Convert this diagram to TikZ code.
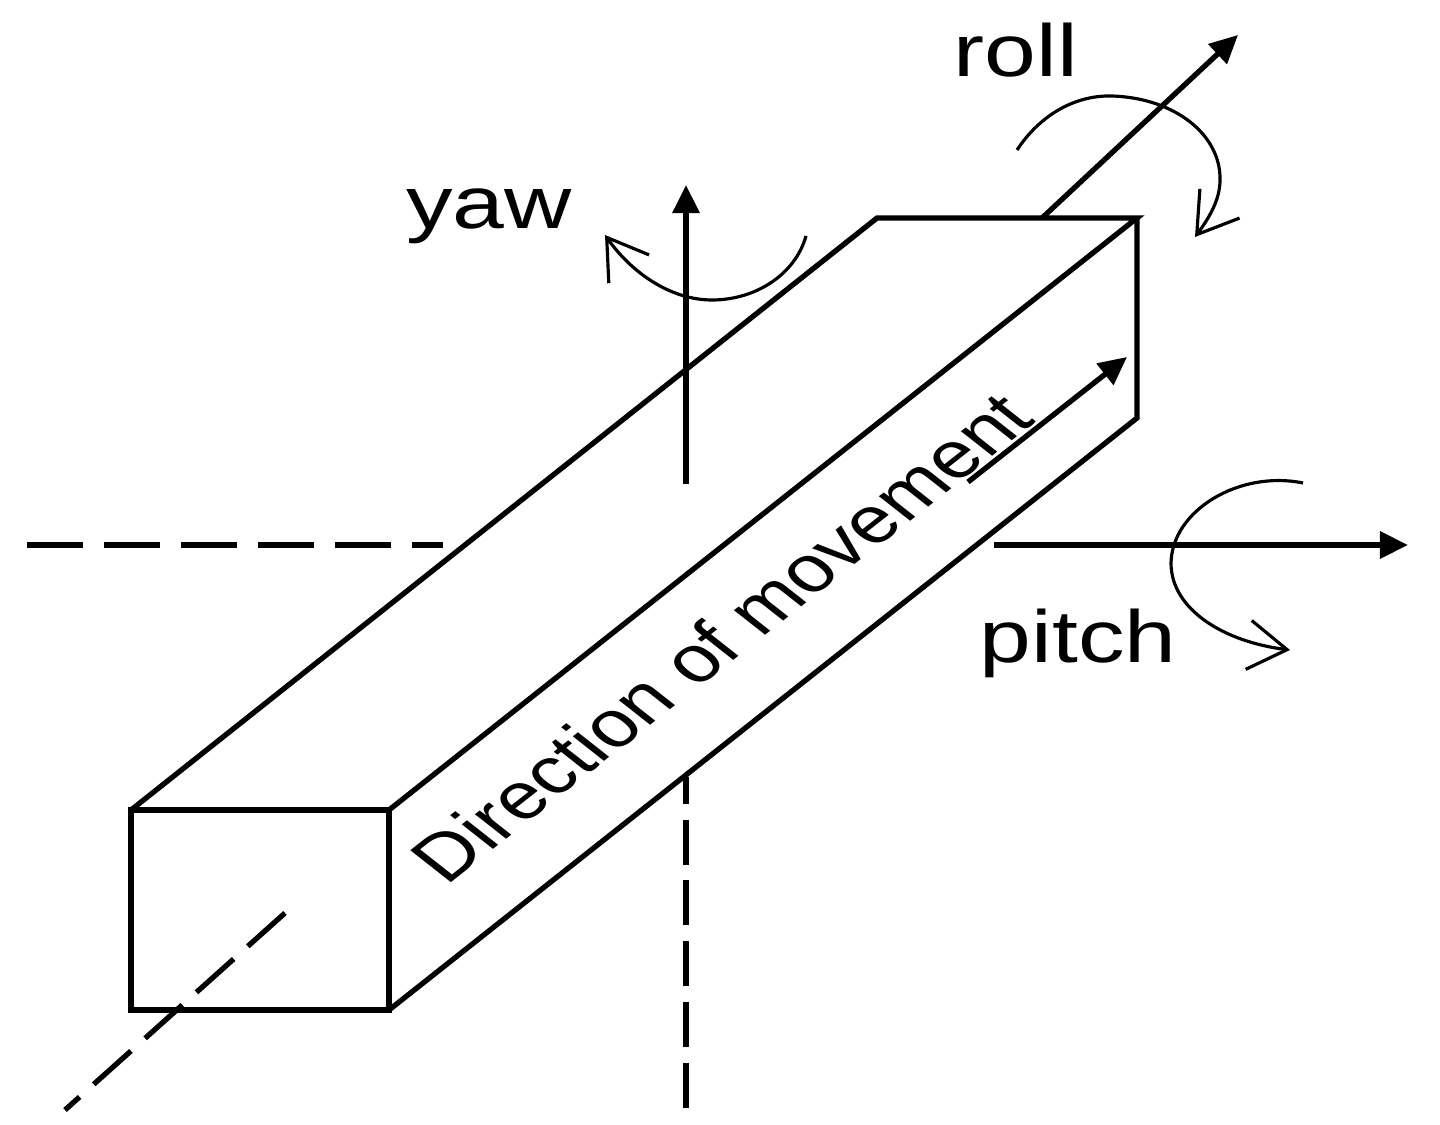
\documentclass[tikz,border=0pt]{standalone}
\usepackage{fontspec}
\setmainfont{Liberation Sans}
\usetikzlibrary{arrows.meta}
\tikzstyle{edge} = [line width=1.5pt, line join=miter]
\tikzstyle{axis} = [line width=1.5pt,-{Triangle[length=8pt,width=7.5pt]}]
\tikzstyle{hidden} = [line width=1.5pt]
\tikzstyle{turn} = [line width=0.9pt,-{Straight Barb[length=11pt,width=14pt]}]
\tikzstyle{label} = [inner sep=0pt, font=\fontsize{21}{25}\selectfont, xscale=1.26]

\begin{document}
\begin{tikzpicture}[x=0.01cm,y=-0.01cm]
\useasboundingbox (0,0) rectangle (1440,1125);

%corners of the bar
\coordinate (A) at (131,810);
\coordinate (B) at (389,810);
\coordinate (C) at (389,1010);
\coordinate (D) at (131,1010);
\coordinate (E) at (877,218);
\coordinate (F) at (1137,218);
\coordinate (G) at (1137,418);

%bar
\draw [edge] (A) -- (B) -- (C) -- (D) -- cycle;
\draw [edge] (A) -- (E) -- (F) -- (B);
\draw [edge] (F) -- (G) -- (C);

%axes
\coordinate (rollS) at (1042,218);
\coordinate (rollE) at (1238,35);
\coordinate (yawS) at (686,484);
\coordinate (yawE) at (686,185);
\coordinate (pitchS) at (994,545);
\coordinate (pitchE) at (1408,545);
\draw [axis] (rollS) -- (rollE);
\draw [axis] (yawS) -- (yawE);
\draw [axis] (pitchS) -- (pitchE);

%hidden parts
\coordinate (h1) at (27,545);
\coordinate (h2) at (443,545);
\coordinate (h3) at (686,777);
\coordinate (h4) at (686,1108);
\coordinate (h5) at (285,913);
\coordinate (h6) at (65,1110);
\draw [hidden, dash pattern=on 15.9pt off 6pt] (h1) -- (h2);
\draw [hidden, dash pattern=on 12.8pt off 4.5pt] (h4) -- (h3);
\draw [hidden, dash pattern=on 14.2pt off 5.4pt] (h5) -- (h6);

%rotations
\draw [turn] (1017,150) .. controls (1040,115) and (1075,95) .. (1112,96) .. controls (1175,98) and (1221,135) .. (1220,180) .. controls (1220,200) and (1209,218) .. (1195,237);
\draw [turn] (806,236) .. controls (795,275) and (755,300) .. (712,300) .. controls (670,300) and (631,272) .. (605,235);
\draw [turn] (1303,483) .. controls (1240,470) and (1172,510) .. (1171,563) .. controls (1171,610) and (1225,642) .. (1290,650);

%direction of movement
\coordinate (dirS) at (968,482);
\coordinate (dirE) at (1127,357);
\draw [axis] (dirS) -- (dirE);
\node (dir) [inner sep=0pt, font=\fontsize{18.7}{23}\selectfont, xscale=1.27, rotate=45] at (721,637) {Direction of movement};

%labels
\node (roll) [label] at (1016,50) {roll};
\node (yaw) [label] at (489,216) {yaw};
\node (pitch) [label] at (1078,643) {pitch};

\end{tikzpicture}
\end{document}
